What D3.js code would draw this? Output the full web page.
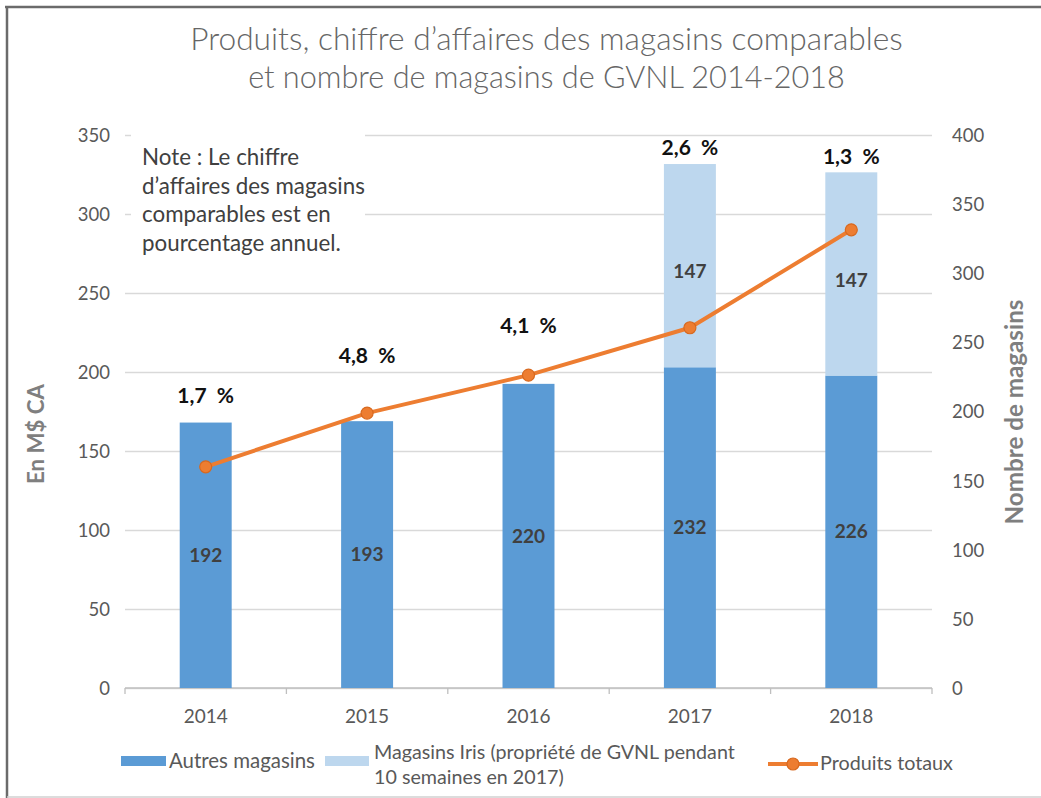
<!DOCTYPE html>
<html><head><meta charset="utf-8">
<script src="https://cdnjs.cloudflare.com/ajax/libs/d3/7.8.5/d3.min.js"></script>
<style>body{margin:0;background:#fff;}svg{display:block;font-family:Lato,'Open Sans',sans-serif;}</style>
</head><body>
<script>
const years = ["2014","2015","2016","2017","2018"];
const autresMagasins = [192,193,220,232,226];
const magasinsIris = [0,0,0,147,147];
const produitsTotaux = [140,174,198,228,290];
const ventesComparables = ["1,7  %","4,8  %","4,1  %","2,6  %","1,3  %"];
const leftTicks = [0,50,100,150,200,250,300,350];
const rightTicks = [0,50,100,150,200,250,300,350,400];
const titleLines = ["Produits, chiffre d\u2019affaires des magasins comparables","et nombre de magasins de GVNL 2014-2018"];
const noteLines = ["Note : Le chiffre","d\u2019affaires des magasins","comparables est en","pourcentage annuel."];

// layout-only: pixel lift of the % labels above bar tops
const pctLift = [15,54,46,4,4];

const W=1041,H=798;
const svg=d3.select("body").append("svg").attr("width",W).attr("height",H);

function fit(sel,target){const n=sel.node();let fs=parseFloat(sel.attr("font-size"));const w=n.getComputedTextLength();if(w>0)sel.attr("font-size",fs*target/w);return fs*target/w;}

// frame
svg.append("line").attr("x1",5).attr("x2",W).attr("y1",7).attr("y2",7).attr("stroke","#6b6b6b").attr("stroke-width",2.5);
svg.append("line").attr("x1",7).attr("x2",7).attr("y1",6).attr("y2",H).attr("stroke","#6b6b6b").attr("stroke-width",2.5);
svg.append("line").attr("x1",7).attr("x2",W).attr("y1",797).attr("y2",797).attr("stroke","#d0d0d0").attr("stroke-width",1.5);

// title
const tw=[713,597];
titleLines.forEach((t,i)=>{
  const s=svg.append("text").attr("x",546.5).attr("y",50+i*38).attr("text-anchor","middle")
   .attr("font-size",28).attr("font-weight",300).attr("fill","#666").text(t);
  fit(s,tw[i]);
});

const x=d3.scaleBand().domain(years).range([125,932]).paddingInner(0.678).paddingOuter(0.339);
const yL=d3.scaleLinear().domain([0,350]).range([688,135]);
const yR=d3.scaleLinear().domain([0,400]).range([688,135]);

// gridlines
const gAxisL=svg.append("g").attr("transform","translate(125,0)")
  .call(d3.axisLeft(yL).tickValues(leftTicks).tickSize(-807).tickPadding(15).tickFormat(d3.format("d")));
gAxisL.select(".domain").remove();
gAxisL.selectAll(".tick line").attr("stroke","#d9d9d9").attr("stroke-width",1.3);
gAxisL.selectAll(".tick text").attr("font-size",18.5).attr("fill","#595959").attr("dy","0.35em").attr("font-family","Lato,sans-serif");

const gAxisR=svg.append("g").attr("transform","translate(932,0)")
  .call(d3.axisRight(yR).tickValues(rightTicks).tickSize(0).tickPadding(20).tickFormat(d3.format("d")));
gAxisR.select(".domain").remove();
gAxisR.selectAll(".tick text").attr("font-size",18.5).attr("fill","#595959").attr("dy","0.35em").attr("font-family","Lato,sans-serif");

// note white box
svg.append("rect").attr("x",131).attr("y",128).attr("width",234).attr("height",138).attr("fill","#fff");
const n2=svg.append("text").attr("x",142).attr("y",-100).attr("font-size",19).text(noteLines[1]);
const noteFs=fit(n2,223); n2.remove();
noteLines.forEach((t,i)=>{
  svg.append("text").attr("x",142).attr("y",165+i*28.5).attr("font-size",noteFs).attr("fill","#404040").text(t);
});

// bottom axis
const xb=d3.scaleLinear().domain([0,5]).range([125,932]);
const gX=svg.append("g").attr("transform","translate(0,688)");
gX.append("line").attr("x1",125).attr("x2",932).attr("stroke","#bfbfbf").attr("stroke-width",1.3);
gX.selectAll("line.tk").data(d3.range(6)).join("line").attr("class","tk")
  .attr("x1",d=>xb(d)).attr("x2",d=>xb(d)).attr("y1",0).attr("y2",6).attr("stroke","#bfbfbf").attr("stroke-width",1.3);
gX.selectAll("text").data(years).join("text").attr("x",d=>x(d)+x.bandwidth()/2).attr("y",35)
  .attr("text-anchor","middle").attr("font-size",19).attr("fill","#595959").text(d=>d);

// bars
const bw=x.bandwidth();
svg.selectAll("rect.a").data(years).join("rect").attr("class","a")
  .attr("x",d=>x(d)).attr("width",bw).attr("y",(d,i)=>yR(autresMagasins[i])).attr("height",(d,i)=>yR(0)-yR(autresMagasins[i])).attr("fill","#5b9bd5");
svg.selectAll("rect.b").data(years).join("rect").attr("class","b")
  .attr("x",d=>x(d)).attr("width",bw).attr("y",(d,i)=>yR(autresMagasins[i]+magasinsIris[i])).attr("height",(d,i)=>yR(autresMagasins[i])-yR(autresMagasins[i]+magasinsIris[i])).attr("fill","#bdd7ee");

// bar labels
svg.selectAll("text.la").data(years).join("text").attr("class","la")
  .attr("x",d=>x(d)+bw/2).attr("y",(d,i)=>(yR(autresMagasins[i])+yR(0))/2).attr("dy","0.35em")
  .attr("text-anchor","middle").attr("font-size",19).attr("font-weight",700).attr("fill","#404040").text((d,i)=>autresMagasins[i]);
svg.selectAll("text.lb").data(years.filter((d,i)=>magasinsIris[i]>0)).join("text").attr("class","lb")
  .attr("x",d=>x(d)+bw/2).attr("y",d=>{const i=years.indexOf(d);return (yR(autresMagasins[i])+yR(autresMagasins[i]+magasinsIris[i]))/2+6;}).attr("dy","0.35em")
  .attr("text-anchor","middle").attr("font-size",19).attr("font-weight",700).attr("fill","#404040").text(d=>magasinsIris[years.indexOf(d)]);

// line
const line=d3.line().x((d,i)=>x(years[i])+bw/2).y(d=>yL(d));
svg.append("path").datum(produitsTotaux).attr("d",line).attr("fill","none").attr("stroke","#ed7d31").attr("stroke-width",4).attr("stroke-linejoin","round");
svg.selectAll("circle.p").data(produitsTotaux).join("circle").attr("class","p")
  .attr("cx",(d,i)=>x(years[i])+bw/2).attr("cy",d=>yL(d)).attr("r",6).attr("fill","#ed7d31").attr("stroke","#d8691f").attr("stroke-width",1.2);

// percent labels
svg.selectAll("text.pc").data(ventesComparables).join("text").attr("class","pc")
  .attr("x",(d,i)=>x(years[i])+bw/2).attr("y",(d,i)=>yR(autresMagasins[i]+magasinsIris[i])-pctLift[i]).attr("dy","-0.22em")
  .attr("text-anchor","middle").attr("font-size",21).attr("font-weight",700).attr("fill","#111").attr("xml:space","preserve").style("white-space","pre").text(d=>d);

// axis titles
const t1=svg.append("text").attr("transform","translate(44,434) rotate(-90)").attr("text-anchor","middle")
  .attr("font-size",19).attr("font-weight",700).attr("fill","#7f7f7f").text("En M$ CA");
fit(t1,100);
const t2=svg.append("text").attr("transform","translate(1023,412) rotate(-90)").attr("text-anchor","middle")
  .attr("font-size",19).attr("font-weight",700).attr("fill","#7f7f7f").text("Nombre de magasins");
fit(t2,225);

// legend
const lg=svg.append("g");
lg.append("rect").attr("x",121).attr("y",756).attr("width",45).attr("height",10).attr("fill","#5b9bd5");
fit(lg.append("text").attr("x",169).attr("y",768).attr("font-size",17).attr("fill","#595959").text("Autres magasins"),146);
lg.append("rect").attr("x",325).attr("y",756).attr("width",44).attr("height",10).attr("fill","#bdd7ee");
const lt=lg.append("text").attr("x",374).attr("y",759).attr("font-size",17).attr("fill","#595959").text("Magasins Iris (propri\u00e9t\u00e9 de GVNL pendant");
const lfs=fit(lt,361);
lg.append("text").attr("x",374).attr("y",784).attr("font-size",lfs).attr("fill","#595959").text("10 semaines en 2017)");
lg.append("line").attr("x1",768).attr("x2",818).attr("y1",764).attr("y2",764).attr("stroke","#ed7d31").attr("stroke-width",4);
lg.append("circle").attr("cx",793).attr("cy",764).attr("r",6).attr("fill","#ed7d31").attr("stroke","#d8691f").attr("stroke-width",1.2);
fit(lg.append("text").attr("x",820).attr("y",770).attr("font-size",17).attr("fill","#595959").text("Produits totaux"),133);
</script>
</body></html>
